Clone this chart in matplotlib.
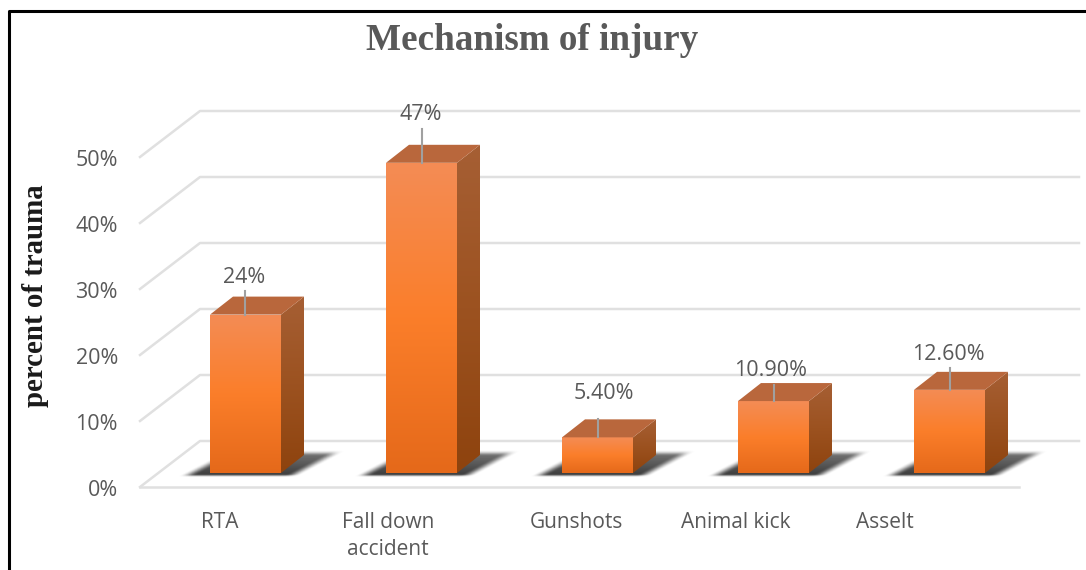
#!/usr/bin/env python3

import matplotlib.pyplot as plt
import numpy as np

from matplotlib.patches import Polygon


categories = ["RTA", "Fall down\naccident", "Gunshots", "Animal kick", "Asselt"]
values     = [24, 47, 5.4, 10.9, 12.6]
val_labels = ["24%", "47%", "5.40%", "10.90%", "12.60%"]
y_ticks    = [0, 10, 20, 30, 40, 50]

# figure size in pixels
W, H = 1086, 570

# pixel layout of the fake 3D box
x0_px, bar_sp  = 245.5, 176.0   # first bar centre, bar spacing
y0_px, px_per  = 473.0, 6.6     # bar base, pixels per percent
bar_w          = 71.0 / bar_sp
dx             = 23.0 / bar_sp  # bar depth
dy             = 18.0 / px_per
floor_front    = -14.0 / 18.0   # in bar depths
wall_back      = 32.0 / 18.0

# label placement, pixels relative to the bar top / centre
leader_len = [24, 34, 18, 16, 22]
label_up   = [37, 48, 44, 31, 35]
label_dx   = [-1.5, -1, 6, -3, -1]
# category label centres, pixels
cat_px     = [220, 388, 576, 736, 885]


def proj(c, v, d=0.0):
  """ category, value, depth -> axes data coords """
  return c + d * dx, v + d * dy


def gradient_poly(ax, pts, stops):
  """ Fill a polygon with a vertical gradient """
  pts = np.array(pts)
  stops = np.array([plt.matplotlib.colors.to_rgb(s) for s in stops])
  t = np.linspace(0, 1, 128)
  pos = np.linspace(0, 1, len(stops))
  img = np.stack([np.interp(t, pos, stops[:, i]) for i in range(3)], axis=1)[:, None, :]
  ext = [pts[:, 0].min(), pts[:, 0].max(), pts[:, 1].min(), pts[:, 1].max()]
  im = ax.imshow(img, extent=ext, origin='upper', aspect='auto', zorder=4, interpolation='bilinear')
  im.set_clip_path(Polygon(pts, closed=True, transform=ax.transData))


def ramp(a):
  a = np.clip(a, 0, 1)
  return a * a * (3 - 2 * a)


def floor_shadow(ax, c):
  """ Soft skewed shadow on the floor behind bar number c """
  l = c - bar_w / 2
  xs = np.linspace(l - 40 / bar_sp, l + 140 / bar_sp, 240)
  ys = np.linspace(-1.0, 4.2, 60)
  gx, gy = np.meshgrid((xs - l) * bar_sp, (ys) * px_per)      # pixels from bar corner
  shear = gy * 44.0 / 23.0                                    # lean of the shadow
  u = gx - shear
  alpha = ramp((u + 27) / 17) * ramp((94 - u) / 16) * ramp((gy + 4) / 3) * ramp((23 - gy) / 6)
  alpha = alpha * (1 - 0.3 * np.clip(gy / 23, 0, 1))
  img = np.zeros(alpha.shape + (4,))
  img[..., :3] = 0.17
  img[..., 3] = 0.9 * alpha
  ax.imshow(img, extent=[xs[0], xs[-1], ys[0], ys[-1]], origin='lower', aspect='auto',
            zorder=2, interpolation='bilinear')


fig = plt.figure(figsize=(W / 100, H / 100), dpi=100)
ax = fig.add_axes([0, 0, 1, 1])
ax.set_xlim(-x0_px / bar_sp, (W - x0_px) / bar_sp)
ax.set_ylim((y0_px - H) / px_per, y0_px / px_per)
ax.axis('off')

# gridlines, floor and back wall
left  = (140.0 - x0_px) / bar_sp
right = (1019.0 - x0_px) / bar_sp
grid_col = '#e0e0e0'
for v in y_ticks:
  xa, ya = left, v + floor_front * dy
  xb, yb = left + 60.0 / bar_sp, v + wall_back * dy
  xc = right + 60.0 / bar_sp
  ax.plot([xa, xb, xc], [ya, yb, yb], color=grid_col, lw=1.8, zorder=1)
  ax.text(left - 22 / bar_sp, ya - 3 / px_per, "{:d}%".format(v), ha='right', va='center',
          fontsize=15.5, color='#595959', family='Open Sans')
ax.plot([left, right], [floor_front * dy] * 2, color=grid_col, lw=1.8, zorder=1)

# bars
for i, v in enumerate(values):
  l, r = i - bar_w / 2, i + bar_w / 2

  floor_shadow(ax, i)

  side = [proj(r, 0), proj(r, 0, 1), proj(r, v, 1), proj(r, v)]
  top  = [proj(l, v), proj(r, v), proj(r, v, 1), proj(l, v, 1)]
  front = [proj(l, 0), proj(r, 0), proj(r, v), proj(l, v)]
  gradient_poly(ax, side, ['#a65f34', '#9c5220', '#8e430e'])
  gradient_poly(ax, front, ['#f48c55', '#fb7e2a', '#e5691a'])
  ax.add_patch(Polygon(top, closed=True, fc='#b9673c', ec='none', zorder=4))

  # leader line and value label
  ax.plot([i, i], [v, v + leader_len[i] / px_per], color='#a0a0a0', lw=1.5, zorder=5)
  ax.text(i + label_dx[i] / bar_sp, v + label_up[i] / px_per, val_labels[i], ha='center', va='center',
          fontsize=15.5, color='#595959', family='Open Sans', zorder=6)

# category labels
for i, c in enumerate(categories):
  ax.text((cat_px[i] - x0_px) / bar_sp, (y0_px - 512) / px_per, c, ha='center', va='top', fontsize=15,
          color='#595959', family='Open Sans', linespacing=1.36)

ax.text(532.0 / W, 1 - 40.0 / H, "Mechanism of injury", transform=ax.transAxes, ha='center', va='center',
        fontsize=26.7, fontweight='bold', color='#595959', family='Liberation Serif')
ax.text(36.0 / W, 1 - 296.0 / H, "percent of trauma", transform=ax.transAxes, rotation=90,
        ha='center', va='center', fontsize=20.8, fontweight='bold', color='#1a1a1a',
        family='Liberation Serif')

# outer frame
ax.plot([8.5 / W, 8.5 / W, 1], [0, 1 - 10.5 / H, 1 - 10.5 / H], transform=ax.transAxes,
        color='black', lw=2.2, clip_on=False, zorder=8)

fig.savefig('out.png', dpi=100)
